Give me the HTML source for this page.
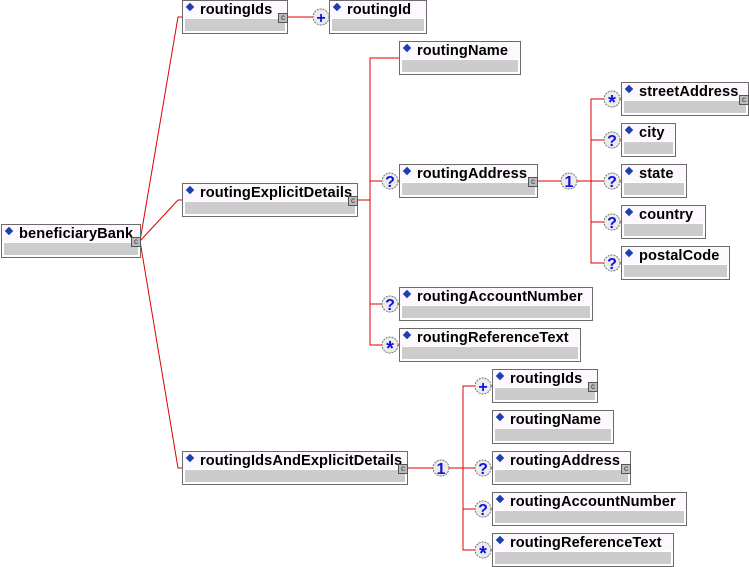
<!DOCTYPE html>
<html><head><style>
body{margin:0;width:749px;height:567px;background:#fff;position:relative;overflow:hidden;font-family:"Liberation Sans",Arial,sans-serif}
.b{position:absolute;box-sizing:border-box;border:1px solid #6b6b6b;background:#fff;height:34px}
.b .t{position:absolute;left:0;right:0;top:0;height:17px;background:#fdf8fd}
.b .g{position:absolute;left:2px;right:2px;top:18px;bottom:2px;background:#cccccc}
.b .l{position:absolute;left:17px;top:0px;font-size:14.6px;font-weight:bold;color:#000;white-space:nowrap;line-height:18px;letter-spacing:0.1px}
.b .d{position:absolute;left:4px;top:3px;width:6px;height:6px;background:#1a3fb0;transform:rotate(45deg)}
.b .c{position:absolute;right:-1px;top:12px;width:10px;height:10px;box-sizing:border-box;border:1px solid #555;background:#bbb;font-size:8px;line-height:8px;text-align:center;color:#333}
svg{position:absolute;left:0;top:0}
</style></head><body>
<svg width="749" height="567">
<g stroke="#e00000" stroke-width="1" fill="none">
<polyline points="140,241 178,17 182,17"/>
<polyline points="140,241 178,200 182,200"/>
<polyline points="140,241 178,468 182,468"/>
<line x1="287" y1="17" x2="329" y2="17"/>
<line x1="357" y1="200" x2="370" y2="200"/>
<polyline points="399,58 370,58 370,345 399,345"/>
<line x1="370" y1="181" x2="399" y2="181"/>
<line x1="370" y1="304" x2="399" y2="304"/>
<line x1="537" y1="181" x2="591" y2="181"/>
<polyline points="621,99 591,99 591,263 621,263"/>
<line x1="591" y1="140" x2="621" y2="140"/>
<line x1="591" y1="181" x2="621" y2="181"/>
<line x1="591" y1="222" x2="621" y2="222"/>
<line x1="407" y1="468" x2="463" y2="468"/>
<polyline points="492,386 463,386 463,550 492,550"/>
<line x1="463" y1="468" x2="492" y2="468"/>
<line x1="463" y1="509" x2="492" y2="509"/>
</g>
<g font-family="Liberation Sans,Arial,sans-serif" font-size="16" font-weight="bold" fill="#1010e0" text-anchor="middle">
<g fill="#ececec" stroke="#777" stroke-dasharray="2,1">
<circle cx="321" cy="17" r="8"/>
<circle cx="390" cy="181" r="8"/><circle cx="390" cy="304" r="8"/><circle cx="390" cy="345" r="8"/>
<circle cx="569" cy="181" r="8"/>
<circle cx="612" cy="99" r="8"/><circle cx="612" cy="140" r="8"/><circle cx="612" cy="181" r="8"/><circle cx="612" cy="222" r="8"/><circle cx="612" cy="263" r="8"/>
<circle cx="441" cy="468" r="8"/>
<circle cx="483" cy="386" r="8"/><circle cx="483" cy="468" r="8"/><circle cx="483" cy="509" r="8"/><circle cx="483" cy="550" r="8"/>
</g>
<text x="321" y="23">+</text>
<text x="390" y="187">?</text><text x="390" y="310">?</text><text x="390" y="355" font-size="20">*</text>
<text x="569" y="187">1</text>
<text x="612" y="109" font-size="20">*</text><text x="612" y="146">?</text><text x="612" y="187">?</text><text x="612" y="228">?</text><text x="612" y="269">?</text>
<text x="441" y="474">1</text>
<text x="483" y="392">+</text><text x="483" y="474">?</text><text x="483" y="515">?</text><text x="483" y="560" font-size="20">*</text>
</g>
</svg>

<div class="b" style="left:1px;top:224px;width:140px"><div class="t"></div><div class="g"></div><div class="d"></div><div class="l">beneficiaryBank</div><div class="c">c</div></div>
<div class="b" style="left:182px;top:0px;width:106px"><div class="t"></div><div class="g"></div><div class="d"></div><div class="l">routingIds</div><div class="c">c</div></div>
<div class="b" style="left:329px;top:0px;width:98px"><div class="t"></div><div class="g"></div><div class="d"></div><div class="l">routingId</div></div>
<div class="b" style="left:399px;top:41px;width:122px"><div class="t"></div><div class="g"></div><div class="d"></div><div class="l">routingName</div></div>
<div class="b" style="left:182px;top:183px;width:176px"><div class="t"></div><div class="g"></div><div class="d"></div><div class="l">routingExplicitDetails</div><div class="c">c</div></div>
<div class="b" style="left:399px;top:164px;width:139px"><div class="t"></div><div class="g"></div><div class="d"></div><div class="l">routingAddress</div><div class="c">c</div></div>
<div class="b" style="left:621px;top:82px;width:128px"><div class="t"></div><div class="g"></div><div class="d"></div><div class="l">streetAddress</div><div class="c">c</div></div>
<div class="b" style="left:621px;top:123px;width:55px"><div class="t"></div><div class="g"></div><div class="d"></div><div class="l">city</div></div>
<div class="b" style="left:621px;top:164px;width:66px"><div class="t"></div><div class="g"></div><div class="d"></div><div class="l">state</div></div>
<div class="b" style="left:621px;top:205px;width:85px"><div class="t"></div><div class="g"></div><div class="d"></div><div class="l">country</div></div>
<div class="b" style="left:621px;top:246px;width:109px"><div class="t"></div><div class="g"></div><div class="d"></div><div class="l">postalCode</div></div>
<div class="b" style="left:399px;top:287px;width:194px"><div class="t"></div><div class="g"></div><div class="d"></div><div class="l">routingAccountNumber</div></div>
<div class="b" style="left:399px;top:328px;width:182px"><div class="t"></div><div class="g"></div><div class="d"></div><div class="l">routingReferenceText</div></div>
<div class="b" style="left:182px;top:451px;width:226px"><div class="t"></div><div class="g"></div><div class="d"></div><div class="l">routingIdsAndExplicitDetails</div><div class="c">c</div></div>
<div class="b" style="left:492px;top:369px;width:106px"><div class="t"></div><div class="g"></div><div class="d"></div><div class="l">routingIds</div><div class="c">c</div></div>
<div class="b" style="left:492px;top:410px;width:122px"><div class="t"></div><div class="g"></div><div class="d"></div><div class="l">routingName</div></div>
<div class="b" style="left:492px;top:451px;width:139px"><div class="t"></div><div class="g"></div><div class="d"></div><div class="l">routingAddress</div><div class="c">c</div></div>
<div class="b" style="left:492px;top:492px;width:195px"><div class="t"></div><div class="g"></div><div class="d"></div><div class="l">routingAccountNumber</div></div>
<div class="b" style="left:492px;top:533px;width:182px"><div class="t"></div><div class="g"></div><div class="d"></div><div class="l">routingReferenceText</div></div>
</body></html>
